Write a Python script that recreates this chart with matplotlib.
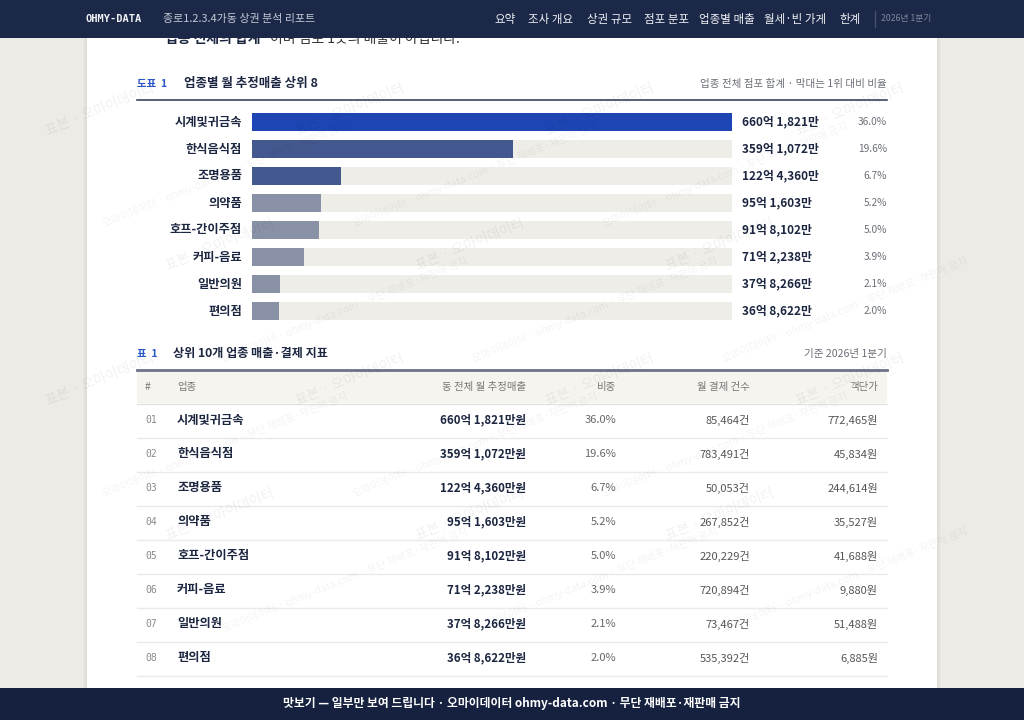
import matplotlib
matplotlib.use('Agg')
import matplotlib.pyplot as plt
from matplotlib.patches import Rectangle

plt.rcParams['font.family'] = ['Noto Sans CJK KR', 'DejaVu Sans']

# data
categories = ['시계및귀금속', '한식음식점', '조명용품', '의약품', '호프-간이주점', '커피-음료', '일반의원', '편의점']
sales_man = [6601821, 3591072, 1224360, 951603, 918102, 712238, 378266, 368622]  # 만원
share = [36.0, 19.6, 6.7, 5.2, 5.0, 3.9, 2.1, 2.0]
tx_count = [85464, 783491, 50053, 267852, 220229, 720894, 73467, 535392]
unit_price = [772465, 45834, 244614, 35527, 41688, 9880, 51488, 6885]
nav_items = ['요약', '조사 개요', '상권 규모', '점포 분포', '업종별 매출', '월세·빈 가게', '한계']
table_cols = ['#', '업종', '동 전체 월 추정매출', '비중', '월 결제 건수', '객단가']

NAVY = '#1b2847'
INK = '#1c2640'
GREY = '#6b6f78'
BLUE = '#2b58c9'
bar_colors = ['#1e45b4', '#43588f', '#43588f', '#8891a6', '#8891a6', '#8891a6', '#8891a6', '#8891a6']


def fmt_sales(v, unit=''):
    return f"{v // 10000}억 {v % 10000:,}만{unit}"


fig = plt.figure(figsize=(10.24, 7.2), dpi=100)
fig.patch.set_facecolor('#ecebe6')

# page background
bg = fig.add_axes([0, 0, 1, 1], zorder=0)
bg.set_xlim(0, 1024)
bg.set_ylim(720, 0)
bg.axis('off')
bg.add_patch(Rectangle((84, 0), 856, 720, facecolor='#e2e0da', edgecolor='none'))
bg.add_patch(Rectangle((87, 0), 850, 720, facecolor='white', edgecolor='none'))

# cut-off intro sentence (mostly hidden under the nav)
bg.text(165, 39, '업종 전체의 합계', fontsize=10, fontweight='bold', color=INK, va='center')
bg.text(270, 39, '이며 점포 1곳의 매출이 아닙니다.', fontsize=10, color='#333', va='center')

# chart heading
bg.text(137, 84, '도표  1', fontsize=7.5, color=BLUE, fontweight='bold', va='center')
bg.text(184, 84, '업종별 월 추정매출 상위 8', fontsize=9, fontweight='bold', color=INK, va='center')
bg.text(887, 84, '업종 전체 점포 합계 · 막대는 1위 대비 비율', fontsize=7.6, color=GREY, va='center', ha='right')
bg.plot([137, 887], [99.5, 99.5], color='#3a4460', lw=1.2)

# bar chart
bar_ax = fig.add_axes([252 / 1024, 1 - 324.5 / 720, 480 / 1024, 216 / 720], zorder=1)
top = max(sales_man)
ypos = list(range(len(categories)))
bar_ax.barh(ypos, [top] * len(categories), height=0.67, color='#efede8')
bar_ax.barh(ypos, sales_man, height=0.67, color=bar_colors)
bar_ax.set_xlim(0, top)
bar_ax.set_ylim(len(categories) - 0.5, -0.5)
bar_ax.axis('off')
for i, name in enumerate(categories):
    bar_ax.annotate(name, (0, i), xytext=(-10, 0), textcoords='offset pixels',
                    ha='right', va='center', fontsize=8.8, fontweight='bold', color=INK)
    bar_ax.annotate(fmt_sales(sales_man[i]), (top, i), xytext=(10, 0), textcoords='offset pixels',
                    ha='left', va='center', fontsize=8.5, fontweight='bold', color=INK)
    bar_ax.annotate(f"{share[i]:.1f}%", (top, i), xytext=(155, 0), textcoords='offset pixels',
                    ha='right', va='center', fontsize=7.3, color=GREY)

# table heading
bg.text(137, 354, '표  1', fontsize=7.5, color=BLUE, fontweight='bold', va='center')
bg.text(173, 354, '상위 10개 업종 매출·결제 지표', fontsize=8.7, fontweight='bold', color=INK, va='center')
bg.text(887, 354, '기준 2026년 1분기', fontsize=7.6, color=GREY, va='center', ha='right')
bg.add_patch(Rectangle((137, 370), 750, 33, facecolor='#f6f4ef', edgecolor='none'))
bg.plot([137, 887], [369.5, 369.5], color='#6b7388', lw=2)
bg.plot([137, 887], [403.5, 403.5], color='#e4e2dc', lw=1)

col_x = [145, 177, 526, 616, 750, 878]
col_ha = ['left', 'left', 'right', 'right', 'right', 'right']
for label, x, ha in zip(table_cols, col_x, col_ha):
    bg.text(x, 387, label, fontsize=7.5, color='#777', ha=ha, va='center')

row_h = 34
for i, name in enumerate(categories):
    y = 420 + i * row_h
    bg.text(145, y, f"{i + 1:02d}", fontsize=7, color='#888', family='DejaVu Sans Mono', va='center')
    bg.text(177, y, name, fontsize=8.8, fontweight='bold', color=INK, va='center')
    bg.text(526, y, fmt_sales(sales_man[i], '원'), fontsize=8.3, fontweight='bold', color=INK, ha='right', va='center')
    bg.text(616, y, f"{share[i]:.1f}%", fontsize=8, color='#666', ha='right', va='center')
    bg.text(750, y, f"{tx_count[i]:,}건", fontsize=8, color='#555', ha='right', va='center')
    bg.text(878, y, f"{unit_price[i]:,}원", fontsize=8, color='#555', ha='right', va='center')
    bg.plot([137, 887], [y + 17.5, y + 17.5], color='#eceae5', lw=1)

# overlay: watermarks, nav, footer
ov = fig.add_axes([0, 0, 1, 1], zorder=2)
ov.set_xlim(0, 1024)
ov.set_ylim(720, 0)
ov.axis('off')
ov.patch.set_alpha(0)

wm_a = '표본 · 오마이데이터'
wm_b = '오마이데이터 · ohmy-data.com · 무단 재배포·재판매 금지'
for r, y0 in enumerate(range(110, 640, 135)):
    shift = 120 if r % 2 else 0
    for x0 in range(100 + shift, 960, 250):
        ov.text(x0, y0, wm_a, fontsize=10, color='#000', alpha=0.06, rotation=22,
                ha='center', va='center', rotation_mode='anchor')
        if x0 + 125 < 880:
            ov.text(x0 + 125, y0 + 65, wm_b, fontsize=7.5, color='#000', alpha=0.05, rotation=22,
                    ha='center', va='center', rotation_mode='anchor')

ov.add_patch(Rectangle((0, 0), 1024, 38, facecolor=NAVY, edgecolor='none', zorder=5))
ov.text(85, 19, 'OHMY-DATA', fontsize=7.5, fontweight='bold', color='#f0f2f6',
        family='DejaVu Sans Mono', va='center', zorder=6)
ov.text(163, 19, '종로1.2.3.4가동 상권 분석 리포트', fontsize=7.9, color='#c3c9d6', va='center', zorder=6)
nav_x = [494, 528, 587, 644, 699, 764, 839]
for label, x in zip(nav_items, nav_x):
    ov.text(x, 19, label, fontsize=8.3, color='#eef0f5', va='center', zorder=6)
ov.plot([874.5, 874.5], [11, 27], color='#44506c', lw=1, zorder=6)
ov.text(881, 19, '2026년 1분기', fontsize=6.3, color='#7f889c', va='center', zorder=6)

ov.add_patch(Rectangle((0, 688), 1024, 32, facecolor='#15213f', edgecolor='none', zorder=5))
ov.text(512, 703, '맛보기 — 일부만 보여 드립니다 · 오마이데이터 ohmy-data.com · 무단 재배포·재판매 금지',
        fontsize=8.5, fontweight='bold', color='white', ha='center', va='center', zorder=6)

fig.savefig('out.png', dpi=100, facecolor=fig.get_facecolor())
